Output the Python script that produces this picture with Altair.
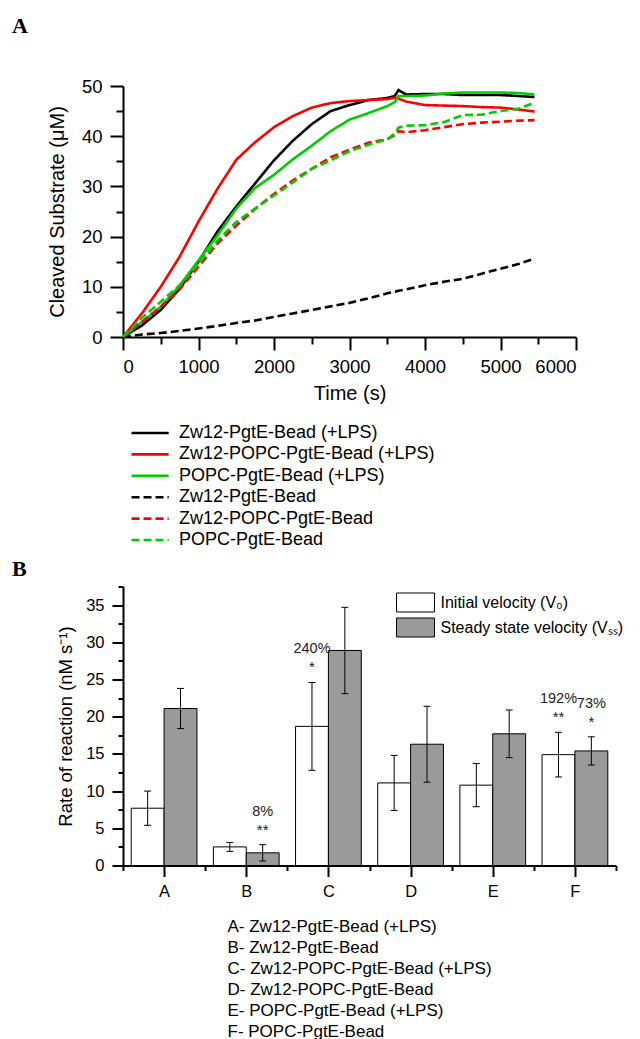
import json
import altair as alt
import pandas as pd

# ---------------- Panel A data ----------------
TIME = [0, 250, 500, 750, 1000, 1250, 1500, 1750, 2000, 2250, 2500, 2750, 3000,
        3250, 3500, 3600, 3650, 3750, 4000, 4250, 4500, 4750, 5000, 5250, 5450]

ZW12_LPS = [0, 2.3, 5.4, 9.6, 15.0, 21.0, 26.0, 30.6, 35.2, 39.1, 42.4, 45.0, 46.2,
            47.2, 47.6, 48.0, 49.2, 48.3, 48.4, 48.4, 48.2, 48.2, 48.2, 48.0, 47.8]
ZW12_POPC_LPS = [0, 4.7, 10.0, 16.0, 23.0, 29.5, 35.3, 38.8, 41.8, 44.0, 45.7, 46.6, 47.0,
                 47.2, 47.4, 47.7, 47.5, 46.9, 46.2, 46.1, 46.0, 45.8, 45.7, 45.3, 44.9]
POPC_LPS = [0, 3.0, 6.0, 10.2, 15.3, 20.2, 25.6, 29.7, 32.3, 35.4, 38.1, 41.0, 43.3,
            44.6, 46.0, 46.8, 48.0, 48.0, 48.1, 48.5, 48.7, 48.7, 48.7, 48.6, 48.3]
ZW12 = [0, 0.5, 0.8, 1.2, 1.7, 2.2, 2.8, 3.3, 4.0, 4.7, 5.4, 6.1, 6.8,
        7.7, 8.7, 9.0, 9.2, 9.5, 10.3, 11.0, 11.6, 12.6, 13.6, 14.6, 15.6]
ZW12_POPC = [0, 3.0, 6.0, 9.5, 14.0, 18.6, 22.2, 25.5, 28.5, 31.2, 33.5, 35.8, 37.3,
             38.7, 39.4, 40.2, 41.0, 40.8, 41.2, 41.8, 42.4, 42.7, 42.9, 43.1, 43.2]
POPC = [0, 3.8, 7.0, 10.3, 14.6, 19.2, 22.9, 25.6, 28.2, 30.8, 33.5, 35.2, 37.0,
        38.3, 39.4, 40.5, 41.7, 42.1, 42.2, 42.8, 44.2, 44.3, 45.0, 45.5, 46.7]

SERIES_NAMES = ["Zw12-PgtE-Bead (+LPS)", "Zw12-POPC-PgtE-Bead (+LPS)", "POPC-PgtE-Bead (+LPS)",
                "Zw12-PgtE-Bead", "Zw12-POPC-PgtE-Bead", "POPC-PgtE-Bead"]
SERIES_VALUES = [ZW12_LPS, ZW12_POPC_LPS, POPC_LPS, ZW12, ZW12_POPC, POPC]
SERIES_COLORS = ["#000000", "#ff0000", "#00cc00", "#000000", "#ff0000", "#00cc00"]
SERIES_DASH = [[1, 0], [1, 0], [1, 0], [8, 4], [8, 4], [8, 4]]
SERIES_WIDTH = [2.6, 2.6, 2.6, 3.2, 3.2, 3.2]

# ---------------- Panel B data ----------------
CATEGORIES = ["A", "B", "C", "D", "E", "F"]
V0 = [7.7, 2.5, 18.7, 11.1, 10.8, 14.9]
V0_ERR = [2.3, 0.6, 5.9, 3.7, 2.9, 3.0]
VSS = [21.1, 1.7, 28.9, 16.3, 17.7, 15.4]
VSS_ERR = [2.7, 1.1, 5.8, 5.1, 3.2, 1.9]
BAR_SERIES = ["Initial velocity (V\u2080)", "Steady state velocity (V\u209b\u209b)"]
BAR_FILLS = ["#ffffff", "#9a9a9a"]

ANNOT_CAT = ["C", "B", "F", "F"]
ANNOT_SERIES = [0, 1, 0, 1]
ANNOT_PCT = ["240%", "8%", "192%", "73%"]
ANNOT_STAR = ["*", "**", "**", "*"]

CAPTION = ["A- Zw12-PgtE-Bead (+LPS)", "B- Zw12-PgtE-Bead", "C- Zw12-POPC-PgtE-Bead (+LPS)",
           "D- Zw12-POPC-PgtE-Bead", "E- POPC-PgtE-Bead (+LPS)", "F- POPC-PgtE-Bead"]

FONT = "Liberation Sans, Arial, sans-serif"
SERIF = "Liberation Serif, Times New Roman, serif"

# ---------------- tables ----------------
line_rows = []
for name, vals in zip(SERIES_NAMES, SERIES_VALUES):
    for t, v in zip(TIME, vals):
        line_rows.append({"series": name, "time": t, "value": v})
line_df = pd.DataFrame(line_rows)

bar_rows = []
for i, c in enumerate(CATEGORIES):
    bar_rows.append({"cat": c, "idx": i, "kind": 0, "series": BAR_SERIES[0], "value": V0[i], "err": V0_ERR[i]})
    bar_rows.append({"cat": c, "idx": i, "kind": 1, "series": BAR_SERIES[1], "value": VSS[i], "err": VSS_ERR[i]})
bar_df = pd.DataFrame(bar_rows)

ann_rows = []
for c, k, p, s in zip(ANNOT_CAT, ANNOT_SERIES, ANNOT_PCT, ANNOT_STAR):
    i = CATEGORIES.index(c)
    val = V0[i] if k == 0 else VSS[i]
    err = V0_ERR[i] if k == 0 else VSS_ERR[i]
    ann_rows.append({"idx": i, "kind": k, "value": val, "err": err, "pct": p, "star": s})
ann_df = pd.DataFrame(ann_rows)

# ---------------- Panel A ----------------
legend_a = alt.Legend(
    orient="none", legendX=17.6, legendY=337.5, title=None,
    labelFont=FONT, labelFontSize=18, labelColor="black", labelLimit=400,
    symbolType="M-2.4,0H2.4", symbolSize=240, symbolStrokeWidth=2.6,
    labelOffset=19.4, rowPadding=2.4,
)

panel_a = alt.Chart(line_df).mark_line().encode(
    x=alt.X("time:Q", scale=alt.Scale(domain=[0, 6000], nice=False, zero=False),
            axis=alt.Axis(values=list(range(0, 6001, 500)), format="d", labelOverlap=False,
                          labelExpr="datum.value % 1000 === 0 ? datum.label : ''",
                          tickSize={"condition": {"test": "datum.value % 1000 === 0", "value": 13}, "value": 7},
                          title="Time (s)", labelFontSize=18.5, titleFontSize=20,
                          labelPadding=7, titlePadding=8)),
    y=alt.Y("value:Q", scale=alt.Scale(domain=[0, 50], nice=False),
            axis=alt.Axis(values=list(range(0, 51, 5)), labelOverlap=False,
                          labelExpr="datum.value % 10 === 0 ? datum.label : ''",
                          tickSize={"condition": {"test": "datum.value % 10 === 0", "value": 13}, "value": 7},
                          title="Cleaved Substrate (\u03bcM)", labelFontSize=18.5, titleFontSize=20,
                          labelPadding=8, titlePadding=14)),
    color=alt.Color("series:N", scale=alt.Scale(domain=SERIES_NAMES, range=SERIES_COLORS), legend=legend_a),
    strokeDash=alt.StrokeDash("series:N", scale=alt.Scale(domain=SERIES_NAMES, range=SERIES_DASH), legend=legend_a),
    strokeWidth=alt.StrokeWidth("series:N", scale=alt.Scale(domain=SERIES_NAMES, range=SERIES_WIDTH), legend=None),
).properties(
    width=453, height=251,
    title=alt.TitleParams("A", anchor="start", frame="group", dx=-111, offset=22.5,
                          font=SERIF, fontSize=22, fontWeight="bold", color="black",
                          baseline="alphabetic"),
)

# ---------------- Panel B ----------------
x_values = [-0.5 + 0.5 * k for k in range(13)]
y_values = [2.5 * k for k in range(16)]
cat_js = json.dumps(CATEGORIES)

x_scale_b = alt.Scale(domain=[-0.5, 5.5], nice=False, zero=False)
y_scale_b = alt.Scale(domain=[0, 37.5], nice=False, zero=True)
x_axis_b = alt.Axis(values=x_values, labelOverlap=False,
                    labelExpr=f"datum.value % 1 == 0 ? {cat_js}[datum.value] : ''",
                    tickSize={"condition": {"test": "datum.value % 1 == 0", "value": 11}, "value": 5},
                    title=CAPTION, titleAnchor="start", titleAlign="left", titleX=104, titleY=53,
                    titleBaseline="top", titleLineHeight=21, titleFontSize=17,
                    labelFontSize=16.5, labelPadding=7)
y_axis_b = alt.Axis(values=y_values, labelOverlap=False, format="d",
                    labelExpr="(round(datum.value * 2) % 10 == 0) ? format(datum.value, 'd') : ''",
                    tickSize={"condition": {"test": "round(datum.value * 2) % 10 == 0", "value": 11}, "value": 5},
                    title="Rate of reaction (nM s\u207b\u00b9)", labelFontSize=16.5, titleFontSize=18.5,
                    labelPadding=8, titlePadding=10)


def xb(field):
    return alt.X(field, scale=x_scale_b, axis=x_axis_b)


def yb(field):
    return alt.Y(field, scale=y_scale_b, axis=y_axis_b)


base_b = alt.Chart(bar_df).transform_calculate(
    x0="datum.idx - 0.4 + 0.4 * datum.kind",
).transform_calculate(
    x1="datum.x0 + 0.4",
    xc="datum.x0 + 0.2",
    lo="datum.value - datum.err",
    hi="datum.value + datum.err",
).transform_calculate(
    cl="datum.xc - 0.042",
    cr="datum.xc + 0.042",
)

legend_b = alt.Legend(
    orient="none", legendX=284, legendY=7.5, title=None,
    labelFont=FONT, labelFontSize=16, labelColor="black", labelLimit=400,
    symbolType="M-2.4,-1.2H2.4V1.2H-2.4Z", symbolSize=250, symbolStrokeColor="black",
    symbolStrokeWidth=1, symbolOpacity=1, labelOffset=16.5, rowPadding=2,
)

bars = base_b.mark_bar(stroke="black", strokeWidth=1, opacity=1).encode(
    x=xb("x0:Q"), x2="x1:Q", y=yb("value:Q"), y2=alt.datum(0),
    fill=alt.Fill("series:N", scale=alt.Scale(domain=BAR_SERIES, range=BAR_FILLS), legend=legend_b),
)
err_v = base_b.mark_rule(color="black", strokeWidth=1).encode(x=xb("xc:Q"), y=yb("lo:Q"), y2="hi:Q")
cap_hi = base_b.mark_rule(color="black", strokeWidth=1).encode(x=xb("cl:Q"), x2="cr:Q", y=yb("hi:Q"))
cap_lo = base_b.mark_rule(color="black", strokeWidth=1).encode(x=xb("cl:Q"), x2="cr:Q", y=yb("lo:Q"))

ann_base = alt.Chart(ann_df).transform_calculate(
    xc="datum.idx - 0.2 + 0.4 * datum.kind",
    hi="datum.value + datum.err",
)
pct_text = ann_base.mark_text(dy=-29, baseline="alphabetic", fontSize=14.5, font=FONT, color="#222222").encode(
    x=xb("xc:Q"), y=yb("hi:Q"), text="pct:N")
star_text = ann_base.mark_text(dy=-10, baseline="alphabetic", fontSize=15, font=FONT, color="#222222").encode(
    x=xb("xc:Q"), y=yb("hi:Q"), text="star:N")

panel_b = alt.layer(bars, err_v, cap_hi, cap_lo, pct_text, star_text).properties(
    width=493, height=279,
    title=alt.TitleParams("B", anchor="start", frame="group", dx=-111, offset=0, dy=19,
                          font=SERIF, fontSize=22, fontWeight="bold", color="black",
                          baseline="alphabetic"),
)

chart = alt.vconcat(panel_a, panel_b, spacing=249.5, bounds="flush").resolve_scale(
    color="independent", fill="independent", strokeDash="independent",
).resolve_legend(
    color="independent", fill="independent", strokeDash="independent",
).properties(
    padding={"left": 4, "top": 6, "right": 0, "bottom": 0},
    background="white",
).configure(
    font=FONT,
).configure_view(
    stroke=None,
).configure_axis(
    grid=False, domainColor="black", domainWidth=2, tickColor="black", tickWidth=2,
    labelColor="black", titleColor="black", labelFont=FONT, titleFont=FONT,
    titleFontWeight="normal",
)

chart.save("out.html", embed_options={"renderer": "svg", "actions": False})
